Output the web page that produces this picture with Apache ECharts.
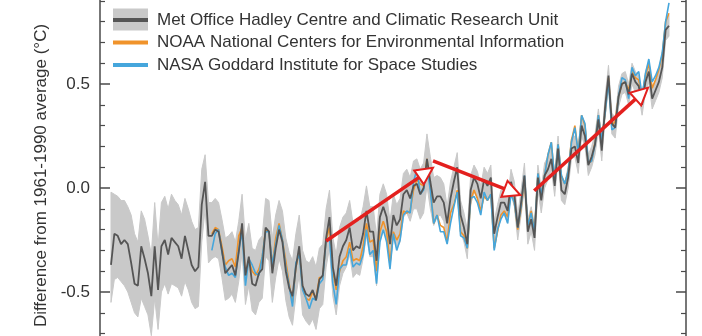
<!DOCTYPE html>
<html><head><meta charset="utf-8">
<script src="https://cdn.jsdelivr.net/npm/echarts@6/dist/echarts.min.js"></script>
<style>html,body{margin:0;padding:0;background:#fff}#c{width:702px;height:336px}</style>
</head><body><div id="c"></div>
<script>
// ---- data ----
const hadFirstYear = 1850;
const hadcrut = [
-0.37,-0.22,-0.23,-0.27,-0.25,-0.27,-0.36,-0.46,-0.47,-0.28,
-0.34,-0.41,-0.52,-0.28,-0.49,-0.28,-0.25,-0.32,-0.24,-0.26,
-0.28,-0.34,-0.23,-0.30,-0.37,-0.40,-0.38,-0.08,0.03,-0.23,
-0.23,-0.20,-0.21,-0.30,-0.41,-0.39,-0.37,-0.42,-0.31,-0.17,
-0.42,-0.33,-0.46,-0.47,-0.41,-0.39,-0.19,-0.21,-0.41,-0.29,
-0.20,-0.26,-0.40,-0.48,-0.52,-0.38,-0.28,-0.47,-0.51,-0.52,
-0.49,-0.54,-0.44,-0.42,-0.24,-0.14,-0.38,-0.47,-0.33,-0.28,
-0.25,-0.19,-0.30,-0.28,-0.29,-0.22,-0.11,-0.21,-0.21,-0.35,
-0.14,-0.09,-0.14,-0.27,-0.13,-0.18,-0.15,-0.03,-0.01,-0.05,
0.01,0.02,-0.03,0.00,0.14,0.03,-0.07,-0.04,-0.04,-0.07,
-0.17,-0.05,0.03,0.10,-0.13,-0.19,-0.27,-0.01,0.05,0.02,
-0.05,0.04,0.01,0.05,-0.22,-0.14,-0.07,-0.07,-0.11,0.03,
-0.03,-0.19,-0.07,0.06,-0.21,-0.15,-0.24,0.05,-0.06,0.06,
0.09,0.14,0.01,0.19,-0.01,-0.03,0.05,0.19,0.20,0.12,
0.30,0.25,0.11,0.15,0.21,0.33,0.18,0.39,0.54,0.31,
0.29,0.44,0.50,0.51,0.45,0.55,0.51,0.49,0.40,0.51,
0.56,0.43,0.47,0.51,0.58,0.76,0.78];
const hadUpper = [
-0.02,-0.03,-0.04,-0.06,-0.06,-0.09,-0.13,-0.22,-0.26,-0.11,
-0.15,-0.23,-0.32,-0.07,-0.28,-0.07,-0.04,-0.10,-0.03,-0.06,
-0.08,-0.13,-0.05,-0.10,-0.16,-0.20,-0.19,0.09,0.16,-0.07,
-0.07,-0.05,-0.07,-0.15,-0.24,-0.23,-0.21,-0.26,-0.16,-0.03,
-0.25,-0.17,-0.29,-0.30,-0.25,-0.23,-0.05,-0.06,-0.24,-0.13,
-0.06,-0.11,-0.24,-0.31,-0.35,-0.22,-0.13,-0.30,-0.35,-0.36,
-0.33,-0.38,-0.29,-0.27,-0.10,-0.01,-0.24,-0.32,-0.19,-0.14,
-0.12,-0.06,-0.17,-0.15,-0.16,-0.09,0.01,-0.09,-0.09,-0.23,
-0.03,0.02,-0.03,-0.16,-0.03,-0.08,-0.05,0.07,0.09,0.05,
0.13,0.14,0.09,0.12,0.26,0.15,0.05,0.06,0.05,0.02,
-0.09,0.03,0.10,0.17,-0.06,-0.12,-0.20,0.06,0.11,0.08,
0.01,0.10,0.07,0.11,-0.16,-0.08,-0.01,-0.01,-0.05,0.09,
0.03,-0.13,-0.01,0.12,-0.15,-0.09,-0.18,0.11,0.00,0.12,
0.15,0.20,0.07,0.25,0.05,0.03,0.10,0.24,0.25,0.17,
0.35,0.30,0.16,0.20,0.26,0.38,0.23,0.44,0.59,0.36,
0.34,0.49,0.55,0.56,0.50,0.60,0.56,0.54,0.45,0.56,
0.61,0.48,0.52,0.56,0.63,0.81,0.83];
const hadLower = [
-0.55,-0.44,-0.43,-0.45,-0.47,-0.50,-0.55,-0.60,-0.62,-0.53,
-0.57,-0.61,-0.71,-0.53,-0.68,-0.50,-0.46,-0.51,-0.46,-0.47,
-0.48,-0.52,-0.45,-0.49,-0.55,-0.58,-0.57,-0.26,-0.10,-0.36,
-0.34,-0.33,-0.34,-0.43,-0.54,-0.53,-0.51,-0.55,-0.45,-0.31,
-0.56,-0.47,-0.59,-0.61,-0.55,-0.53,-0.33,-0.35,-0.55,-0.43,
-0.34,-0.40,-0.54,-0.62,-0.66,-0.52,-0.42,-0.61,-0.64,-0.66,
-0.63,-0.68,-0.58,-0.56,-0.38,-0.29,-0.52,-0.61,-0.47,-0.41,
-0.38,-0.32,-0.43,-0.41,-0.42,-0.34,-0.23,-0.33,-0.33,-0.47,
-0.26,-0.20,-0.25,-0.38,-0.24,-0.29,-0.26,-0.14,-0.12,-0.16,
-0.10,-0.10,-0.15,-0.12,0.01,-0.10,-0.18,-0.14,-0.13,-0.16,
-0.25,-0.13,-0.05,0.02,-0.21,-0.26,-0.34,-0.08,-0.02,-0.05,
-0.12,-0.03,-0.06,-0.02,-0.29,-0.21,-0.13,-0.13,-0.17,-0.03,
-0.09,-0.25,-0.13,0.00,-0.27,-0.21,-0.30,-0.01,-0.12,0.00,
0.04,0.09,-0.04,0.14,-0.06,-0.08,0.00,0.14,0.15,0.07,
0.25,0.20,0.06,0.10,0.16,0.28,0.13,0.34,0.49,0.26,
0.24,0.39,0.45,0.46,0.40,0.50,0.46,0.44,0.35,0.46,
0.51,0.38,0.42,0.46,0.53,0.71,0.73];
const usFirstYear = 1880;
const noaa = [
-0.22,-0.19,-0.20,-0.28,-0.37,-0.35,-0.34,-0.38,-0.23,-0.19,
-0.42,-0.35,-0.40,-0.42,-0.39,-0.33,-0.20,-0.21,-0.37,-0.24,
-0.17,-0.25,-0.35,-0.46,-0.55,-0.38,-0.31,-0.48,-0.53,-0.54,
-0.50,-0.53,-0.43,-0.43,-0.25,-0.19,-0.40,-0.49,-0.40,-0.35,
-0.33,-0.26,-0.35,-0.34,-0.35,-0.28,-0.17,-0.26,-0.25,-0.40,
-0.21,-0.16,-0.21,-0.36,-0.21,-0.25,-0.22,-0.11,-0.12,-0.11,
-0.01,0.04,0.02,0.01,0.14,0.01,-0.17,-0.13,-0.18,-0.19,
-0.26,-0.12,-0.08,-0.01,-0.21,-0.23,-0.29,-0.06,-0.01,-0.05,
-0.11,-0.04,-0.06,-0.03,-0.29,-0.21,-0.13,-0.11,-0.14,-0.02,
-0.07,-0.20,-0.10,0.04,-0.18,-0.11,-0.21,0.07,-0.03,0.06,
0.16,0.22,0.04,0.21,0.06,0.02,0.08,0.23,0.30,0.17,
0.35,0.30,0.12,0.13,0.22,0.35,0.23,0.36,0.53,0.30,
0.32,0.44,0.50,0.51,0.47,0.56,0.53,0.52,0.44,0.54,
0.60,0.48,0.52,0.57,0.64,0.80,0.84];
const nasa = [
-0.30,-0.22,-0.20,-0.31,-0.38,-0.42,-0.41,-0.43,-0.30,-0.21,
-0.47,-0.34,-0.37,-0.41,-0.42,-0.33,-0.21,-0.21,-0.37,-0.27,
-0.18,-0.25,-0.38,-0.47,-0.57,-0.36,-0.32,-0.49,-0.53,-0.58,
-0.53,-0.54,-0.46,-0.44,-0.25,-0.24,-0.46,-0.56,-0.39,-0.37,
-0.37,-0.29,-0.38,-0.36,-0.37,-0.32,-0.20,-0.32,-0.30,-0.46,
-0.26,-0.20,-0.26,-0.39,-0.22,-0.30,-0.25,-0.13,-0.11,-0.12,
0.03,0.09,-0.03,-0.01,0.10,-0.01,-0.17,-0.13,-0.21,-0.21,
-0.27,-0.17,-0.09,-0.02,-0.23,-0.24,-0.29,-0.05,-0.04,-0.07,
-0.13,-0.02,-0.06,-0.03,-0.30,-0.20,-0.15,-0.12,-0.17,-0.03,
-0.07,-0.19,-0.09,0.06,-0.18,-0.12,-0.21,0.07,-0.03,0.06,
0.16,0.22,0.04,0.21,0.06,0.02,0.08,0.22,0.29,0.17,
0.35,0.31,0.12,0.13,0.21,0.35,0.23,0.36,0.51,0.28,
0.29,0.44,0.53,0.52,0.43,0.58,0.54,0.56,0.44,0.55,
0.62,0.51,0.54,0.58,0.65,0.80,0.89];
const seriesNames = [
  'Met Office Hadley Centre and Climatic Research Unit',
  'NOAA National Centers for Environmental Information',
  'NASA Goddard Institute for Space Studies'
];
const yTickLabels = ['-0.5', '0.0', '0.5'];
// red trend arrows: [start, end] in [year, anomaly]
const arrowStarts = [[1914.0, -0.255], [1945.8, 0.13], [1975.9, -0.013]];
const arrowEnds   = [[1943.7, 0.074], [1969.4, -0.019], [2007.9, 0.455]];

// ---- build ----
const toPairs = (arr, y0) => arr.map((v, i) => [y0 + i, v]);
const bandData = hadUpper.map((u, i) => [hadFirstYear + i, hadLower[i], u]);
const FONT = "'Liberation Sans', Arial, Helvetica, sans-serif";
const AXIS = '#4a4a4a';
const BAND = '#c9c9c9';

const yAxisBase = {
  type: 'value', min: -1, max: 1, interval: 0.5,
  axisLine: { show: true, lineStyle: { color: AXIS, width: 1.5 } },
  axisTick: { show: true, inside: true, length: 10, lineStyle: { color: AXIS, width: 1.5 } },
  minorTick: { show: true, splitNumber: 5, length: 5, lineStyle: { color: AXIS, width: 1.2 } },
  splitLine: { show: false }, minorSplitLine: { show: false }
};

const chart = echarts.init(document.getElementById('c'), null, { renderer: 'canvas' });
chart.setOption({
  animation: false,
  backgroundColor: '#fff',
  textStyle: { fontFamily: FONT },
  grid: { left: 100, right: 16, top: -20, bottom: -60, containLabel: false, outerBoundsMode: 'none' },
  xAxis: { type: 'value', min: 1846.73, max: 2021.06, show: false },
  yAxis: [
    Object.assign({}, yAxisBase, {
      position: 'left',
      name: 'Difference from 1961-1990 average (\u00B0C)',
      nameLocation: 'middle', nameGap: 43,
      nameTextStyle: { fontSize: 17, color: '#333', fontFamily: FONT, padding: [0, 0, 0, 25] },
      axisLabel: {
        show: true, margin: 10, fontSize: 17, color: '#333', fontFamily: FONT,
        formatter: v => { const s = v.toFixed(1); return yTickLabels.indexOf(s) >= 0 ? s : ''; }
      }
    }),
    Object.assign({}, yAxisBase, { position: 'right', axisLabel: { show: false } })
  ],
  legend: [
    {
      z: 3, selectedMode: false, padding: 0, left: 113, top: 8.5,
      itemWidth: 35, itemHeight: 22, icon: 'rect',
      formatter: () => '',
      data: [{ name: 'band', itemStyle: { color: BAND, borderWidth: 0 } }]
    },
    {
      z: 4, selectedMode: false, padding: 0, left: 113, top: 11, orient: 'vertical',
      itemWidth: 35, itemHeight: 4, itemGap: 4.5, icon: 'rect',
      textStyle: { fontSize: 17, color: '#333', fontFamily: FONT, lineHeight: 18, padding: [0, 0, 0, 4] },
      data: [
        { name: seriesNames[0], itemStyle: { color: '#555555', borderWidth: 0 } },
        { name: seriesNames[1], itemStyle: { color: '#f0932b', borderWidth: 0 } },
        { name: seriesNames[2], itemStyle: { color: '#45a6dc', borderWidth: 0 } }
      ]
    }
  ],
  series: [
    {
      name: 'band', type: 'custom', data: bandData, silent: true, z: 1,
      itemStyle: { color: BAND },
      encode: { x: 0, y: [1, 2] },
      renderItem: (params, api) => {
        if (params.dataIndex !== 0) return null;
        const top = bandData.map(d => api.coord([d[0], d[2]]));
        const bot = bandData.slice().reverse().map(d => api.coord([d[0], d[1]]));
        return { type: 'polygon', shape: { points: top.concat(bot) },
                 style: { fill: BAND, stroke: BAND, lineWidth: 1 } };
      }
    },
    { name: seriesNames[1], type: 'line', data: toPairs(noaa, usFirstYear), symbol: 'none',
      itemStyle: { color: '#f0932b' }, lineStyle: { color: '#f0932b', width: 1.6 }, z: 2 },
    { name: seriesNames[2], type: 'line', data: toPairs(nasa, usFirstYear), symbol: 'none',
      itemStyle: { color: '#45a6dc' }, lineStyle: { color: '#45a6dc', width: 1.6 }, z: 3 },
    { name: seriesNames[0], type: 'line', data: toPairs(hadcrut, hadFirstYear), symbol: 'none',
      itemStyle: { color: '#555555' }, lineStyle: { color: '#555555', width: 1.8 }, z: 4,
      markLine: {
        silent: true, animation: false,
        symbol: ['none', 'emptyTriangle'], symbolSize: 17,
        label: { show: false },
        lineStyle: { color: '#e3201e', width: 3.5, type: 'solid' },
        emphasis: { disabled: true },
        data: arrowStarts.map((s, i) => [{ coord: s }, { coord: arrowEnds[i] }])
      }
    }
  ]
});
</script>
</body></html>
